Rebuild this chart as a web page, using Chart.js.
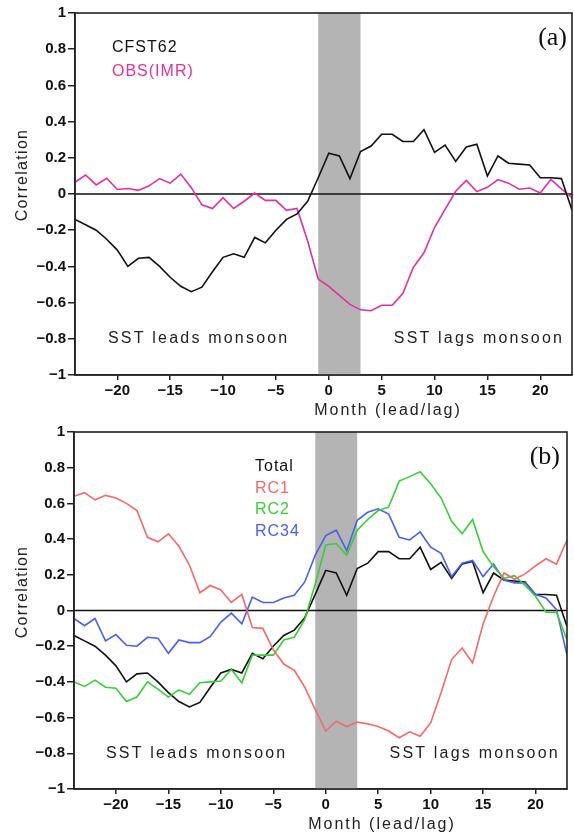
<!DOCTYPE html>
<html>
<head>
<meta charset="utf-8">
<script src="https://cdn.jsdelivr.net/npm/chart.js@4/dist/chart.umd.min.js"></script>
<style>
  html, body { margin: 0; padding: 0; background: #fff; }
  .panel { position: absolute; left: 0; width: 574px; height: 418px; }
  #panelA { top: 0; }
  #panelB { top: 418px; }
</style>
</head>
<body>
<div class="panel" id="panelA"><canvas id="chartA" width="574" height="418"></canvas></div>
<div class="panel" id="panelB"><canvas id="chartB" width="574" height="418"></canvas></div>
<script>
// lead/lag in months (negative = SST leads monsoon)
const months = [-24, -23, -22, -21, -20, -19, -18, -17, -16, -15, -14, -13, -12, -11, -10, -9,
                -8, -7, -6, -5, -4, -3, -2, -1, 0, 1, 2, 3, 4, 5, 6, 7,
                8, 9, 10, 11, 12, 13, 14, 15, 16, 17, 18, 19, 20, 21, 22, 23]
const xTicks = [-20, -15, -10, -5, 0, 5, 10, 15, 20]

// panel (a)
const cfst62 = [-0.14, -0.17, -0.20, -0.25, -0.31, -0.40, -0.355, -0.35, -0.40, -0.46, -0.51, -0.54, -0.515, -0.43, -0.35, -0.33,
                -0.35, -0.24, -0.27, -0.20, -0.14, -0.11, -0.04, 0.09, 0.225, 0.21, 0.085, 0.235, 0.265, 0.33, 0.33, 0.29,
                0.29, 0.355, 0.23, 0.27, 0.18, 0.26, 0.275, 0.10, 0.21, 0.17, 0.165, 0.16, 0.09, 0.09, 0.085, -0.09]
const obsImr = [0.065, 0.105, 0.05, 0.087, 0.025, 0.03, 0.02, 0.045, 0.085, 0.06, 0.11, 0.035, -0.06, -0.08, -0.02, -0.08,
                -0.04, 0.005, -0.035, -0.035, -0.09, -0.08, -0.26, -0.47, -0.51, -0.56, -0.61, -0.64, -0.645, -0.615, -0.615, -0.55,
                -0.405, -0.325, -0.185, -0.085, 0.015, 0.075, 0.013, 0.037, 0.08, 0.06, 0.026, 0.033, 0.005, 0.08, 0.028, -0.02]

// panel (b) — Total is the same CFST62 curve
const rc1 = [0.64, 0.66, 0.62, 0.645, 0.63, 0.60, 0.56, 0.41, 0.385, 0.43, 0.36, 0.255, 0.10, 0.14, 0.115, 0.045,
             0.09, -0.095, -0.10, -0.22, -0.30, -0.335, -0.43, -0.555, -0.675, -0.62, -0.65, -0.625, -0.635, -0.65, -0.675, -0.713,
             -0.68, -0.705, -0.63, -0.46, -0.275, -0.21, -0.294, -0.075, 0.08, 0.21, 0.175, 0.205, 0.25, 0.29, 0.26, 0.395]
const rc2 = [-0.40, -0.425, -0.39, -0.43, -0.435, -0.51, -0.485, -0.40, -0.44, -0.485, -0.445, -0.47, -0.405, -0.40, -0.395, -0.33,
             -0.405, -0.25, -0.25, -0.25, -0.165, -0.15, -0.05, 0.15, 0.367, 0.375, 0.31, 0.45, 0.51, 0.56, 0.58, 0.725,
             0.75, 0.777, 0.71, 0.63, 0.50, 0.43, 0.51, 0.33, 0.245, 0.18, 0.195, 0.14, 0.08, -0.01, -0.01, -0.165]
const rc34 = [-0.045, -0.085, -0.045, -0.17, -0.135, -0.195, -0.20, -0.15, -0.155, -0.24, -0.165, -0.18, -0.18, -0.145, -0.065, -0.015,
              -0.075, 0.075, 0.045, 0.045, 0.07, 0.085, 0.16, 0.31, 0.42, 0.45, 0.335, 0.505, 0.55, 0.57, 0.54, 0.41,
              0.395, 0.44, 0.355, 0.32, 0.19, 0.265, 0.28, 0.19, 0.26, 0.17, 0.155, 0.155, 0.09, 0.07, 0.005, -0.25]

const shadeFrom = -1
const shadeTo = 3
const leadsText = { x: -12.3, y: -0.8, text: 'SST leads monsoon' }
const lagsText = { x: 14.2, y: -0.8, text: 'SST lags monsoon' }

const colors = {
    black: '#111111',
    magenta: '#e0329c',
    red: '#f06b6b',
    green: '#3ccb3c',
    blue: '#4a62e6',
    shade: '#b4b4b4'
}

const panels = [
    {
        canvas: 'chartA',
        tag: '(a)',
        area: { left: 75, right: 572, top: 13, bottom: 375 },
        tagPos: { x: 567, y: 45 },
        legendPos: { x: 112, y: 52, step: 24 },
        yTitlePos: { x: 23, y: 175 },
        xTitlePos: { x: 388, y: 411 },
        series: [
            { label: 'CFST62', data: cfst62, color: colors.black },
            { label: 'OBS(IMR)', data: obsImr, color: colors.magenta }
        ]
    },
    {
        canvas: 'chartB',
        tag: '(b)',
        area: { left: 74, right: 567, top: 14, bottom: 371 },
        tagPos: { x: 560, y: 46 },
        legendPos: { x: 255, y: 53, step: 21.5 },
        yTitlePos: { x: 23, y: 174 },
        xTitlePos: { x: 382, y: 407 },
        series: [
            { label: 'RC1', data: rc1, color: colors.red },
            { label: 'RC2', data: rc2, color: colors.green },
            { label: 'RC34', data: rc34, color: colors.blue },
            { label: 'Total', data: cfst62, color: colors.black }
        ],
        legendOrder: ['Total', 'RC1', 'RC2', 'RC34']
    }
]

const sans = '"Liberation Sans", Arial, sans-serif'

function drawText(ctx, text, x, y, opts) {
    ctx.save()
    ctx.font = opts.font
    ctx.fillStyle = opts.color || '#111'
    ctx.textAlign = opts.align || 'left'
    ctx.textBaseline = opts.baseline || 'alphabetic'
    if ('letterSpacing' in ctx) ctx.letterSpacing = (opts.spacing || 0) + 'px'
    ctx.translate(x, y)
    if (opts.rotate) ctx.rotate(opts.rotate)
    ctx.fillText(text, 0, 0)
    ctx.restore()
}

const decor = {
    id: 'decor',
    beforeDatasetsDraw(chart, args, p) {
        const { ctx, chartArea: a, scales: { x, y } } = chart
        ctx.save()
        ctx.fillStyle = colors.shade
        const x0 = x.getPixelForValue(shadeFrom)
        const x1 = x.getPixelForValue(shadeTo)
        ctx.fillRect(x0, a.top, x1 - x0, a.bottom - a.top)
        ctx.strokeStyle = '#111'
        ctx.lineWidth = 1.5
        ctx.beginPath()
        const y0 = y.getPixelForValue(0)
        ctx.moveTo(a.left, y0)
        ctx.lineTo(a.right, y0)
        ctx.stroke()
        ctx.restore()
    },
    afterDatasetsDraw(chart, args, p) {
        const { ctx, chartArea: a, scales: { x, y } } = chart
        ctx.save()
        ctx.strokeStyle = '#222'
        ctx.lineWidth = 1.6
        ctx.strokeRect(a.left, a.top, a.right - a.left, a.bottom - a.top)
        ctx.restore()

        const order = p.legendOrder || p.series.map(s => s.label)
        order.forEach((name, i) => {
            const s = p.series.find(d => d.label === name)
            drawText(ctx, s.label, p.legendPos.x, p.legendPos.y + i * p.legendPos.step,
                { font: '16px ' + sans, color: s.color, spacing: 1 })
        })

        drawText(ctx, p.tag, p.tagPos.x, p.tagPos.y,
            { font: '26px "Liberation Serif", "Times New Roman", serif', color: '#111', align: 'right' })

        ;[leadsText, lagsText].forEach(t => {
            drawText(ctx, t.text, x.getPixelForValue(t.x), y.getPixelForValue(t.y),
                { font: '16px ' + sans, color: '#222', align: 'center', baseline: 'middle', spacing: 2.2 })
        })

        drawText(ctx, 'Correlation', p.yTitlePos.x, p.yTitlePos.y,
            { font: '16px ' + sans, color: '#222', align: 'center', baseline: 'middle', spacing: 1.3, rotate: -Math.PI / 2 })
        drawText(ctx, 'Month (lead/lag)', p.xTitlePos.x, p.xTitlePos.y,
            { font: '16px ' + sans, color: '#222', align: 'center', baseline: 'middle', spacing: 2 })
    }
}

function makeChart(p) {
    const canvas = document.getElementById(p.canvas)
    const H = canvas.height
    const tickFont = { family: sans, size: 15, weight: 'bold' }

    return new Chart(canvas, {
        type: 'line',
        data: {
            datasets: p.series.map(s => ({
                label: s.label,
                data: months.map((m, i) => ({ x: m, y: s.data[i] })),
                borderColor: s.color,
                borderWidth: 1.6,
                pointRadius: 0,
                tension: 0,
                fill: false
            }))
        },
        options: {
            responsive: false,
            animation: false,
            devicePixelRatio: 1,
            layout: { padding: { top: p.area.top, right: canvas.width - p.area.right, bottom: 0, left: 0 } },
            plugins: {
                legend: { display: false },
                tooltip: { enabled: false },
                decor: p
            },
            scales: {
                x: {
                    type: 'linear',
                    min: months[0],
                    max: months[months.length - 1],
                    afterBuildTicks: axis => { axis.ticks = xTicks.map(v => ({ value: v })) },
                    afterFit: s => { s.height = H - p.area.bottom },
                    grid: { drawOnChartArea: false, drawTicks: true, tickLength: 5, color: '#222', lineWidth: 1.5 },
                    border: { display: true, color: '#222', width: 1.6 },
                    ticks: {
                        font: tickFont,
                        color: '#111',
                        padding: 2,
                        maxRotation: 0,
                        autoSkip: false,
                        callback: v => String(v).replace('-', '\u2212')
                    }
                },
                y: {
                    min: -1,
                    max: 1,
                    afterFit: s => { s.width = p.area.left },
                    grid: { drawOnChartArea: false, drawTicks: true, tickLength: 7, color: '#222', lineWidth: 1.5 },
                    border: { display: true, color: '#222', width: 1.6 },
                    ticks: {
                        stepSize: 0.2,
                        font: tickFont,
                        color: '#111',
                        padding: 2,
                        callback: v => {
                            const r = Math.round(v * 10) / 10
                            return r === 0 ? '0' : String(r).replace('-', '\u2212')
                        }
                    }
                }
            }
        },
        plugins: [decor]
    })
}

panels.forEach(makeChart)
</script>
</body>
</html>
